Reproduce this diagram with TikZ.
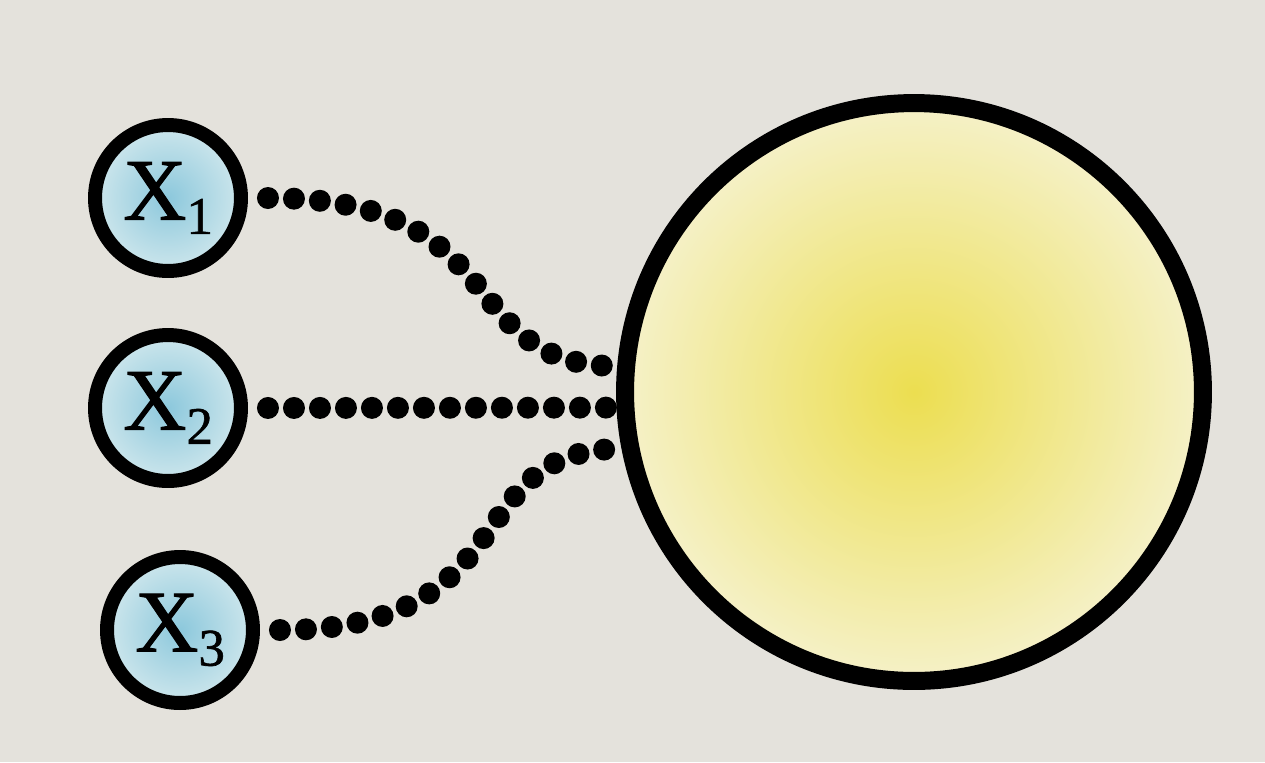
\documentclass[tikz,border=0pt]{standalone}
\usepackage{fontspec}
\setmainfont{Liberation Serif}
\newfontfamily\labelfont[FakeBold=1.2]{Liberation Serif}
\usetikzlibrary{positioning,calc}

\definecolor{paper}{RGB}{228,226,220}
\definecolor{inblue}{RGB}{140,200,220}
\definecolor{outblue}{RGB}{205,230,236}
\definecolor{inyellow}{RGB}{236,222,80}
\definecolor{outyellow}{RGB}{245,241,200}

\begin{document}
\begin{tikzpicture}[
    x=0.02cm, y=-0.02cm,
    inputnode/.style={
        circle, draw=black, line width=0.28cm,
        minimum size=2.92cm, inner sep=0pt,
        inner color=inblue, outer color=outblue,
        font=\labelfont\fontsize{50}{52}\selectfont
    },
    neuron/.style={
        circle, draw=black, line width=0.36cm,
        minimum size=11.56cm, inner sep=0pt,
        inner color=inyellow, outer color=outyellow
    },
    beads/.style={
        line width=0.44cm, line cap=round, black,
        dash pattern=on 0pt off 0.52cm, shorten <=0.4cm
    }
]
    \useasboundingbox[fill=paper] (0,0) rectangle (1265,762);

    \node[neuron] (n) at (914,392) {};
    \node[inputnode] (x1) at (168,198) {X\raisebox{-0.35ex}{\fontsize{30}{32}\selectfont 1}};
    \node[inputnode] (x2) at (168,408) {X\raisebox{-0.35ex}{\fontsize{30}{32}\selectfont 2}};
    \node[inputnode] (x3) at (180,630) {X\raisebox{-0.35ex}{\fontsize{30}{32}\selectfont 3}};

    \coordinate (in1) at (n.175);
    \coordinate (in2) at (n.183);
    \coordinate (in3) at (n.191);

    \draw[beads] (x1.east) .. controls +(270,0) and +(-165,0) .. (in1);
    \draw[beads] (x2.east) -- (in2);
    \draw[beads] (x3.east) .. controls +(270,0) and +(-165,0) .. (in3);
\end{tikzpicture}
\end{document}
